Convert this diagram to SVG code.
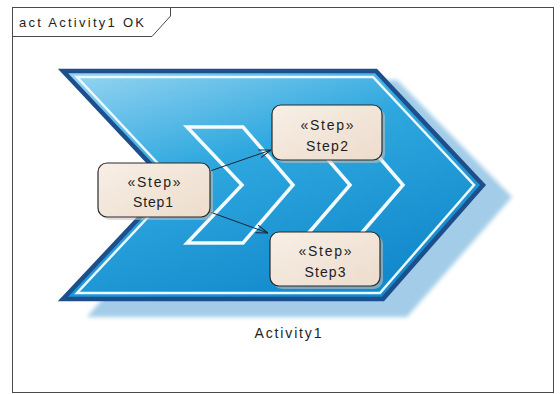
<svg xmlns="http://www.w3.org/2000/svg" width="560" height="394" viewBox="0 0 560 394">
<style>
.frame{fill:none;stroke:#4a4a4a;stroke-width:1}
.txt{font-family:"Liberation Sans",Arial,sans-serif;fill:#1e1e1e}
.box{stroke:#2a2a2a;stroke-width:1.2;fill:url(#boxg)}
.boxsh{fill:#c9c3bd;opacity:0.55}
.chev{fill:none;stroke:#f2fbff;stroke-width:3.5;stroke-linejoin:miter}
.conn{stroke:#1a2633;stroke-width:1;fill:none}
</style>
<defs>
<linearGradient id="maing" x1="0" y1="0" x2="0.55" y2="1">
<stop offset="0" stop-color="#9ad6f2"/>
<stop offset="0.45" stop-color="#2fa8df"/>
<stop offset="1" stop-color="#138acc"/>
</linearGradient>
<linearGradient id="bandg" x1="0" y1="0" x2="0" y2="1">
<stop offset="0" stop-color="#5cc2ec"/>
<stop offset="0.5" stop-color="#2a9fda"/>
<stop offset="1" stop-color="#0c7cbf"/>
</linearGradient>
<linearGradient id="boxg" x1="0" y1="0" x2="1" y2="1">
<stop offset="0" stop-color="#f8efe6"/>
<stop offset="1" stop-color="#ecdccc"/>
</linearGradient>
<filter id="blur" x="-10%" y="-10%" width="120%" height="120%">
<feGaussianBlur stdDeviation="2"/>
</filter>
<marker id="arr" markerUnits="userSpaceOnUse" viewBox="0 0 12 10" markerWidth="12" markerHeight="10" refX="12" refY="5" orient="auto">
<path d="M0,1 L12,5 L0,9" fill="none" stroke="#1a2633" stroke-width="1"/>
</marker>
</defs>
<rect width="560" height="394" fill="#ffffff"/>
<g id="frame">
<rect class="frame" x="12.5" y="7.5" width="541" height="385"/>
<path class="frame" d="M12.5,36.5 H152 L170.5,16 V7.5"/>
<text class="txt" x="19" y="27" font-size="13" textLength="125" lengthAdjust="spacing">act Activity1 OK</text>
</g>
<g id="Activity1">
<polygon points="85,80 397,80 512,197 407,317 87,317 190,197" fill="#a2cce8" filter="url(#blur)"/>
<polygon points="63,71 376,71 483,185 383,299 63,299 170,185" fill="url(#maing)" stroke="#1c4f8b" stroke-width="4.5" stroke-linejoin="miter"/>
<polygon points="77,77 373,77 474,185 380,293 77,293 178,185" fill="none" stroke="#eaf8ff" stroke-width="2.5"/>
<polygon points="187,127 243,127 293,185 243,243 187,243 242,185" fill="url(#bandg)" class="chev"/>
<polyline class="chev" points="300,127 350,185 300,243"/>
<polyline class="chev" points="353,127 403,185 353,243"/>
<text class="txt" x="288" y="338" font-size="14" text-anchor="middle" textLength="67" lengthAdjust="spacing">Activity1</text>
</g>
<g id="connectors">
<line class="conn" x1="210" y1="171" x2="271" y2="150" marker-end="url(#arr)"/>
<line class="conn" x1="210" y1="212" x2="268" y2="233" marker-end="url(#arr)"/>
</g>
<g id="Step1">
<rect class="boxsh" x="101" y="166" width="112" height="54" rx="9"/>
<rect class="box" x="98" y="163" width="112" height="54" rx="9"/>
<text class="txt" x="154" y="187" font-size="14" text-anchor="middle" textLength="53" lengthAdjust="spacing">«Step»</text>
<text class="txt" x="153" y="207" font-size="14" text-anchor="middle" textLength="40" lengthAdjust="spacing">Step1</text>
</g>
<g id="Step2">
<rect class="boxsh" x="275" y="108" width="110" height="55" rx="9"/>
<rect class="box" x="272" y="105" width="110" height="55" rx="9"/>
<text class="txt" x="327" y="130" font-size="14" text-anchor="middle" textLength="53" lengthAdjust="spacing">«Step»</text>
<text class="txt" x="327" y="151" font-size="14" text-anchor="middle" textLength="42" lengthAdjust="spacing">Step2</text>
</g>
<g id="Step3">
<rect class="boxsh" x="273" y="235" width="110" height="54" rx="9"/>
<rect class="box" x="270" y="232" width="110" height="54" rx="9"/>
<text class="txt" x="325" y="256" font-size="14" text-anchor="middle" textLength="53" lengthAdjust="spacing">«Step»</text>
<text class="txt" x="325" y="277" font-size="14" text-anchor="middle" textLength="41" lengthAdjust="spacing">Step3</text>
</g>
</svg>
